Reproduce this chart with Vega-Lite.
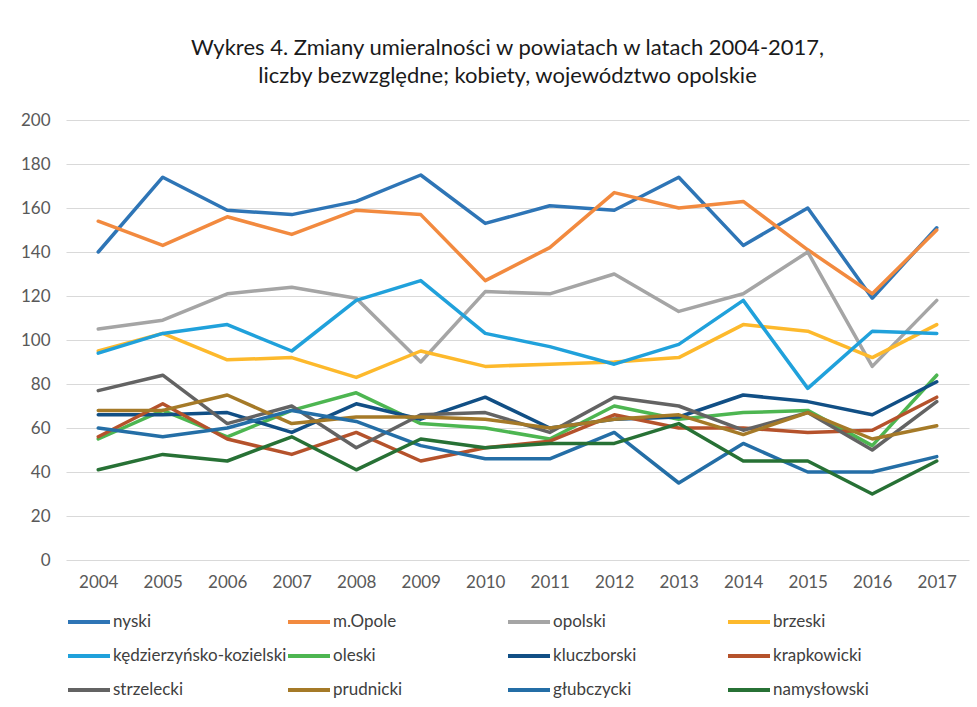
{
  "$schema": "https://vega.github.io/schema/vega-lite/v6.json",
  "width": 903,
  "height": 440,
  "autosize": {"type": "none"},
  "padding": {"left": 66, "top": 120, "right": 8, "bottom": 147},
  "background": "white",
  "title": {
    "text": ["Wykres 4. Zmiany umieralności w powiatach w latach 2004-2017,", "liczby bezwzględne; kobiety, województwo opolskie"],
    "font": "Lato",
    "fontSize": 22,
    "fontWeight": "normal",
    "color": "#1a1a1a",
    "lineHeight": 28,
    "anchor": "middle",
    "frame": "group",
    "offset": 23,
    "dx": -10
  },
  "datasets": {
    "d": [
      {"year": "2004", "powiat": "nyski", "value": 140},
      {"year": "2005", "powiat": "nyski", "value": 174},
      {"year": "2006", "powiat": "nyski", "value": 159},
      {"year": "2007", "powiat": "nyski", "value": 157},
      {"year": "2008", "powiat": "nyski", "value": 163},
      {"year": "2009", "powiat": "nyski", "value": 175},
      {"year": "2010", "powiat": "nyski", "value": 153},
      {"year": "2011", "powiat": "nyski", "value": 161},
      {"year": "2012", "powiat": "nyski", "value": 159},
      {"year": "2013", "powiat": "nyski", "value": 174},
      {"year": "2014", "powiat": "nyski", "value": 143},
      {"year": "2015", "powiat": "nyski", "value": 160},
      {"year": "2016", "powiat": "nyski", "value": 119},
      {"year": "2017", "powiat": "nyski", "value": 151},
      {"year": "2004", "powiat": "m.Opole", "value": 154},
      {"year": "2005", "powiat": "m.Opole", "value": 143},
      {"year": "2006", "powiat": "m.Opole", "value": 156},
      {"year": "2007", "powiat": "m.Opole", "value": 148},
      {"year": "2008", "powiat": "m.Opole", "value": 159},
      {"year": "2009", "powiat": "m.Opole", "value": 157},
      {"year": "2010", "powiat": "m.Opole", "value": 127},
      {"year": "2011", "powiat": "m.Opole", "value": 142},
      {"year": "2012", "powiat": "m.Opole", "value": 167},
      {"year": "2013", "powiat": "m.Opole", "value": 160},
      {"year": "2014", "powiat": "m.Opole", "value": 163},
      {"year": "2015", "powiat": "m.Opole", "value": 141},
      {"year": "2016", "powiat": "m.Opole", "value": 121},
      {"year": "2017", "powiat": "m.Opole", "value": 150},
      {"year": "2004", "powiat": "opolski", "value": 105},
      {"year": "2005", "powiat": "opolski", "value": 109},
      {"year": "2006", "powiat": "opolski", "value": 121},
      {"year": "2007", "powiat": "opolski", "value": 124},
      {"year": "2008", "powiat": "opolski", "value": 119},
      {"year": "2009", "powiat": "opolski", "value": 90},
      {"year": "2010", "powiat": "opolski", "value": 122},
      {"year": "2011", "powiat": "opolski", "value": 121},
      {"year": "2012", "powiat": "opolski", "value": 130},
      {"year": "2013", "powiat": "opolski", "value": 113},
      {"year": "2014", "powiat": "opolski", "value": 121},
      {"year": "2015", "powiat": "opolski", "value": 140},
      {"year": "2016", "powiat": "opolski", "value": 88},
      {"year": "2017", "powiat": "opolski", "value": 118},
      {"year": "2004", "powiat": "brzeski", "value": 95},
      {"year": "2005", "powiat": "brzeski", "value": 103},
      {"year": "2006", "powiat": "brzeski", "value": 91},
      {"year": "2007", "powiat": "brzeski", "value": 92},
      {"year": "2008", "powiat": "brzeski", "value": 83},
      {"year": "2009", "powiat": "brzeski", "value": 95},
      {"year": "2010", "powiat": "brzeski", "value": 88},
      {"year": "2011", "powiat": "brzeski", "value": 89},
      {"year": "2012", "powiat": "brzeski", "value": 90},
      {"year": "2013", "powiat": "brzeski", "value": 92},
      {"year": "2014", "powiat": "brzeski", "value": 107},
      {"year": "2015", "powiat": "brzeski", "value": 104},
      {"year": "2016", "powiat": "brzeski", "value": 92},
      {"year": "2017", "powiat": "brzeski", "value": 107},
      {"year": "2004", "powiat": "kędzierzyńsko-kozielski", "value": 94},
      {"year": "2005", "powiat": "kędzierzyńsko-kozielski", "value": 103},
      {"year": "2006", "powiat": "kędzierzyńsko-kozielski", "value": 107},
      {"year": "2007", "powiat": "kędzierzyńsko-kozielski", "value": 95},
      {"year": "2008", "powiat": "kędzierzyńsko-kozielski", "value": 118},
      {"year": "2009", "powiat": "kędzierzyńsko-kozielski", "value": 127},
      {"year": "2010", "powiat": "kędzierzyńsko-kozielski", "value": 103},
      {"year": "2011", "powiat": "kędzierzyńsko-kozielski", "value": 97},
      {"year": "2012", "powiat": "kędzierzyńsko-kozielski", "value": 89},
      {"year": "2013", "powiat": "kędzierzyńsko-kozielski", "value": 98},
      {"year": "2014", "powiat": "kędzierzyńsko-kozielski", "value": 118},
      {"year": "2015", "powiat": "kędzierzyńsko-kozielski", "value": 78},
      {"year": "2016", "powiat": "kędzierzyńsko-kozielski", "value": 104},
      {"year": "2017", "powiat": "kędzierzyńsko-kozielski", "value": 103},
      {"year": "2004", "powiat": "oleski", "value": 55},
      {"year": "2005", "powiat": "oleski", "value": 68},
      {"year": "2006", "powiat": "oleski", "value": 56},
      {"year": "2007", "powiat": "oleski", "value": 68},
      {"year": "2008", "powiat": "oleski", "value": 76},
      {"year": "2009", "powiat": "oleski", "value": 62},
      {"year": "2010", "powiat": "oleski", "value": 60},
      {"year": "2011", "powiat": "oleski", "value": 55},
      {"year": "2012", "powiat": "oleski", "value": 70},
      {"year": "2013", "powiat": "oleski", "value": 64},
      {"year": "2014", "powiat": "oleski", "value": 67},
      {"year": "2015", "powiat": "oleski", "value": 68},
      {"year": "2016", "powiat": "oleski", "value": 52},
      {"year": "2017", "powiat": "oleski", "value": 84},
      {"year": "2004", "powiat": "kluczborski", "value": 66},
      {"year": "2005", "powiat": "kluczborski", "value": 66},
      {"year": "2006", "powiat": "kluczborski", "value": 67},
      {"year": "2007", "powiat": "kluczborski", "value": 58},
      {"year": "2008", "powiat": "kluczborski", "value": 71},
      {"year": "2009", "powiat": "kluczborski", "value": 64},
      {"year": "2010", "powiat": "kluczborski", "value": 74},
      {"year": "2011", "powiat": "kluczborski", "value": 60},
      {"year": "2012", "powiat": "kluczborski", "value": 64},
      {"year": "2013", "powiat": "kluczborski", "value": 65},
      {"year": "2014", "powiat": "kluczborski", "value": 75},
      {"year": "2015", "powiat": "kluczborski", "value": 72},
      {"year": "2016", "powiat": "kluczborski", "value": 66},
      {"year": "2017", "powiat": "kluczborski", "value": 81},
      {"year": "2004", "powiat": "krapkowicki", "value": 56},
      {"year": "2005", "powiat": "krapkowicki", "value": 71},
      {"year": "2006", "powiat": "krapkowicki", "value": 55},
      {"year": "2007", "powiat": "krapkowicki", "value": 48},
      {"year": "2008", "powiat": "krapkowicki", "value": 58},
      {"year": "2009", "powiat": "krapkowicki", "value": 45},
      {"year": "2010", "powiat": "krapkowicki", "value": 51},
      {"year": "2011", "powiat": "krapkowicki", "value": 54},
      {"year": "2012", "powiat": "krapkowicki", "value": 66},
      {"year": "2013", "powiat": "krapkowicki", "value": 60},
      {"year": "2014", "powiat": "krapkowicki", "value": 60},
      {"year": "2015", "powiat": "krapkowicki", "value": 58},
      {"year": "2016", "powiat": "krapkowicki", "value": 59},
      {"year": "2017", "powiat": "krapkowicki", "value": 74},
      {"year": "2004", "powiat": "strzelecki", "value": 77},
      {"year": "2005", "powiat": "strzelecki", "value": 84},
      {"year": "2006", "powiat": "strzelecki", "value": 62},
      {"year": "2007", "powiat": "strzelecki", "value": 70},
      {"year": "2008", "powiat": "strzelecki", "value": 51},
      {"year": "2009", "powiat": "strzelecki", "value": 66},
      {"year": "2010", "powiat": "strzelecki", "value": 67},
      {"year": "2011", "powiat": "strzelecki", "value": 58},
      {"year": "2012", "powiat": "strzelecki", "value": 74},
      {"year": "2013", "powiat": "strzelecki", "value": 70},
      {"year": "2014", "powiat": "strzelecki", "value": 59},
      {"year": "2015", "powiat": "strzelecki", "value": 67},
      {"year": "2016", "powiat": "strzelecki", "value": 50},
      {"year": "2017", "powiat": "strzelecki", "value": 72},
      {"year": "2004", "powiat": "prudnicki", "value": 68},
      {"year": "2005", "powiat": "prudnicki", "value": 68},
      {"year": "2006", "powiat": "prudnicki", "value": 75},
      {"year": "2007", "powiat": "prudnicki", "value": 62},
      {"year": "2008", "powiat": "prudnicki", "value": 65},
      {"year": "2009", "powiat": "prudnicki", "value": 65},
      {"year": "2010", "powiat": "prudnicki", "value": 64},
      {"year": "2011", "powiat": "prudnicki", "value": 60},
      {"year": "2012", "powiat": "prudnicki", "value": 64},
      {"year": "2013", "powiat": "prudnicki", "value": 66},
      {"year": "2014", "powiat": "prudnicki", "value": 57},
      {"year": "2015", "powiat": "prudnicki", "value": 67},
      {"year": "2016", "powiat": "prudnicki", "value": 55},
      {"year": "2017", "powiat": "prudnicki", "value": 61},
      {"year": "2004", "powiat": "głubczycki", "value": 60},
      {"year": "2005", "powiat": "głubczycki", "value": 56},
      {"year": "2006", "powiat": "głubczycki", "value": 60},
      {"year": "2007", "powiat": "głubczycki", "value": 68},
      {"year": "2008", "powiat": "głubczycki", "value": 63},
      {"year": "2009", "powiat": "głubczycki", "value": 52},
      {"year": "2010", "powiat": "głubczycki", "value": 46},
      {"year": "2011", "powiat": "głubczycki", "value": 46},
      {"year": "2012", "powiat": "głubczycki", "value": 58},
      {"year": "2013", "powiat": "głubczycki", "value": 35},
      {"year": "2014", "powiat": "głubczycki", "value": 53},
      {"year": "2015", "powiat": "głubczycki", "value": 40},
      {"year": "2016", "powiat": "głubczycki", "value": 40},
      {"year": "2017", "powiat": "głubczycki", "value": 47},
      {"year": "2004", "powiat": "namysłowski", "value": 41},
      {"year": "2005", "powiat": "namysłowski", "value": 48},
      {"year": "2006", "powiat": "namysłowski", "value": 45},
      {"year": "2007", "powiat": "namysłowski", "value": 56},
      {"year": "2008", "powiat": "namysłowski", "value": 41},
      {"year": "2009", "powiat": "namysłowski", "value": 55},
      {"year": "2010", "powiat": "namysłowski", "value": 51},
      {"year": "2011", "powiat": "namysłowski", "value": 53},
      {"year": "2012", "powiat": "namysłowski", "value": 53},
      {"year": "2013", "powiat": "namysłowski", "value": 62},
      {"year": "2014", "powiat": "namysłowski", "value": 45},
      {"year": "2015", "powiat": "namysłowski", "value": 45},
      {"year": "2016", "powiat": "namysłowski", "value": 30},
      {"year": "2017", "powiat": "namysłowski", "value": 45}
    ]
  },
  "data": {"name": "d"},
  "mark": {"type": "line", "strokeWidth": 3.5, "strokeCap": "round", "strokeJoin": "round"},
  "encoding": {
    "x": {
      "field": "year",
      "type": "ordinal",
      "scale": {"type": "point", "padding": 0.5},
      "axis": {
        "title": null,
        "labelAngle": 0,
        "domain": false,
        "ticks": false,
        "grid": false,
        "labelFont": "Lato",
        "labelFontSize": 17,
        "labelColor": "#595959",
        "labelPadding": 14
      }
    },
    "y": {
      "field": "value",
      "type": "quantitative",
      "scale": {"domain": [0, 200], "nice": false},
      "axis": {
        "title": null,
        "values": [0, 20, 40, 60, 80, 100, 120, 140, 160, 180, 200],
        "domain": false,
        "ticks": false,
        "grid": true,
        "gridColor": "#d9d9d9",
        "gridWidth": 1.2,
        "labelFont": "Lato",
        "labelFontSize": 17,
        "labelColor": "#595959",
        "labelPadding": 16
      }
    },
    "color": {
      "field": "powiat",
      "type": "nominal",
      "sort": ["nyski", "m.Opole", "opolski", "brzeski", "kędzierzyńsko-kozielski", "oleski", "kluczborski", "krapkowicki", "strzelecki", "prudnicki", "głubczycki", "namysłowski"],
      "scale": {
        "domain": ["nyski", "m.Opole", "opolski", "brzeski", "kędzierzyńsko-kozielski", "oleski", "kluczborski", "krapkowicki", "strzelecki", "prudnicki", "głubczycki", "namysłowski"],
        "range": ["#2E75B6", "#F28A3F", "#A5A5A5", "#FDB92C", "#20A1DB", "#4DB651", "#114F85", "#B5522B", "#636363", "#A57A28", "#246EA6", "#277135"]
      },
      "legend": {
        "title": null,
        "orient": "none",
        "legendX": 7,
        "legendY": 486,
        "columns": 4,
        "direction": "horizontal",
        "gridAlign": "all",
        "columnPadding": -7,
        "rowPadding": 10,
        "padding": 0,
        "symbolType": "M-1.5,0H1.5",
        "symbolSize": 784,
        "symbolStrokeWidth": 4,
        "labelFont": "Lato",
        "labelFontSize": 17,
        "labelColor": "#404040",
        "labelOffset": 8,
        "labelLimit": 300
      }
    }
  },
  "config": {
    "view": {"stroke": null}
  }
}
